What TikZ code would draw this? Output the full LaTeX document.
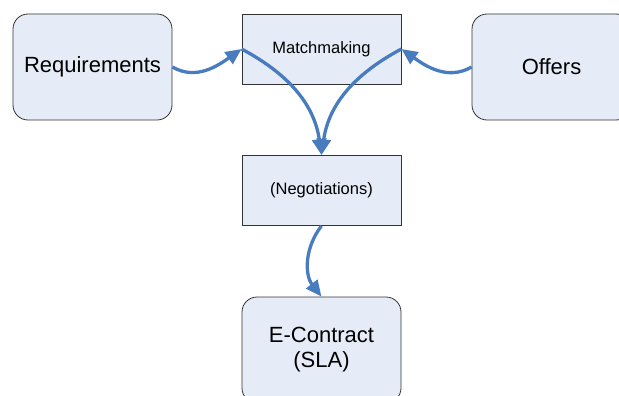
\documentclass[tikz,border=0pt]{standalone}
\usepackage{fontspec}
\setmainfont{Liberation Sans}
\usetikzlibrary{arrows.meta}
\definecolor{boxfill}{RGB}{230,236,247}
\definecolor{flowblue}{RGB}{72,124,190}
\begin{document}
\begin{tikzpicture}[x=1pt,y=-1pt]
            \clip (0,0) rectangle (619,396);
            \begin{scope}[every node/.style={draw=black!80,fill=boxfill,line width=0.8pt,minimum width=159pt,align=center,inner sep=0pt}]
                \node[rounded corners=15pt,minimum height=106pt,font=\fontsize{22}{25}\selectfont] (req) at (92.5,67) {Requirements};
                \node[minimum height=70pt,font=\fontsize{16.5}{19}\selectfont] (match) at (321.5,49) {Matchmaking};
                \node[rounded corners=15pt,minimum height=106pt,font=\fontsize{22}{25}\selectfont] (offers) at (551.5,67) {Offers};

                \node[minimum height=70pt,font=\fontsize{16.5}{19}\selectfont] (nego) at (321.5,190.5) {(Negotiations)};

                \node[rounded corners=15pt,minimum height=106pt,font=\fontsize{22}{25}\selectfont] (sla) at (321.5,350) {E-Contract\\(SLA)};
            \end{scope}
            \begin{scope}[every edge/.style={draw=flowblue,line width=3.3pt,-{Triangle[length=16pt,width=14pt]}}]
                \path (req.east) edge[out=-30,in=215] (match.west);
                \path (offers.west) edge[out=210,in=-35] (match.east);

                \path (match.west) edge[out=-28,in=98] (nego.north);
                \path (match.east) edge[out=208,in=82] (nego.north);

                \path (nego.south) edge[out=232,in=128] (sla.north);
            \end{scope}
        \end{tikzpicture}
\end{document}
